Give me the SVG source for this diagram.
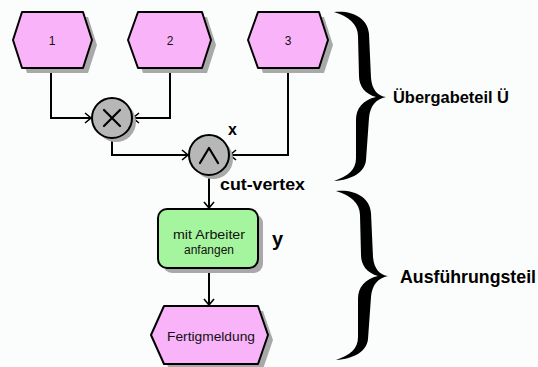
<svg xmlns="http://www.w3.org/2000/svg" xmlns:xlink="http://www.w3.org/1999/xlink" width="538" height="367" viewBox="0 0 538 367">
  <style>
    .shadow { fill: #a9a9a9; }
    .event { fill: #f9b3f9; stroke: #000; stroke-width: 2; stroke-linejoin: round; }
    .func { fill: #a5f59e; stroke: #000; stroke-width: 2; }
    .conn { fill: #b7b7b7; stroke: #000; stroke-width: 2; }
    .sym { fill: none; stroke: #000; stroke-width: 2.2; stroke-linecap: round; stroke-linejoin: round; }
    .edge { fill: none; stroke: #000; stroke-width: 2; marker-end: url(#arrow); }
    .nodetext { font-family: "Liberation Sans", Arial, sans-serif; font-size: 12px; fill: #111; text-anchor: middle; }
    .label { font-family: "Liberation Sans", Arial, sans-serif; font-weight: bold; fill: #000; }
    .brace { fill: #000; }
  </style>
  <defs>
    <marker id="arrow" markerUnits="userSpaceOnUse" markerWidth="14" markerHeight="14" viewBox="-8 -7 10 14" refX="0" refY="0" orient="auto">
      <path d="M-6,-5 L0,0 L-6,5" fill="none" stroke="#000" stroke-width="1.6"/>
    </marker>
    <!-- calligraphic curly brace, tip pointing right -->
    <path id="brace" d="M0,0 C18,-2 34,6 35,22 L37,66 C38,78 44,84 52,85 C42,87 36,94 35,106 L32,148 C31,160 18,168 0,169 C14,164 22,158 22,146 L22,108 C22,96 29,88 42,85 C31,82 25,74 25,64 L24,24 C24,12 14,4 0,0 Z"/>
  </defs>

  <rect width="538" height="367" fill="#fbfdfd"/>

  <!-- connectors -->
  <g id="connectors">
    <polyline class="edge" points="51,69 51,118 91,118"/>
    <polyline class="edge" points="170,69 170,118 133,118"/>
    <polyline class="edge" points="112,138 112,155 188,155"/>
    <polyline class="edge" points="288,69 288,155 230,155"/>
    <polyline class="edge" points="209,175 209,208"/>
    <polyline class="edge" points="209,269 209,305"/>
  </g>

  <!-- start events -->
  <g id="event1">
    <polygon class="shadow" points="18,45 27,17 88,17 97,45 88,73 27,73"/>
    <polygon class="event" points="13,40 22,12 83,12 92,40 83,68 22,68"/>
    <text class="nodetext" x="52" y="45" font-size="13">1</text>
  </g>
  <g id="event2">
    <polygon class="shadow" points="133,45 143,17 207,17 216,45 207,73 143,73"/>
    <polygon class="event" points="128,40 138,12 202,12 211,40 202,68 138,68"/>
    <text class="nodetext" x="170" y="45" font-size="13">2</text>
  </g>
  <g id="event3">
    <polygon class="shadow" points="253,45 263,17 324,17 333,45 324,73 263,73"/>
    <polygon class="event" points="248,40 258,12 319,12 328,40 319,68 258,68"/>
    <text class="nodetext" x="288" y="45" font-size="13">3</text>
  </g>

  <!-- XOR connector -->
  <g id="xor">
    <circle class="shadow" cx="116" cy="122" r="20"/>
    <circle class="conn" cx="112" cy="118" r="20"/>
    <path class="sym" d="M104,110 L120,126 M120,110 L104,126"/>
  </g>

  <!-- AND connector (cut-vertex) -->
  <g id="and">
    <circle class="shadow" cx="213" cy="159" r="20"/>
    <circle class="conn" cx="209" cy="155" r="20"/>
    <path class="sym" d="M200,163 L209,148 L218,163"/>
  </g>
  <text class="label" x="228" y="135" font-size="16">x</text>
  <text class="label" x="220" y="190" font-size="17" textLength="85" lengthAdjust="spacingAndGlyphs">cut-vertex</text>

  <!-- function -->
  <g id="function">
    <rect class="shadow" x="163" y="214" width="100" height="59" rx="9"/>
    <rect class="func" x="158" y="209" width="100" height="59" rx="9"/>
    <text class="nodetext" x="209" y="239" textLength="72" lengthAdjust="spacingAndGlyphs">mit Arbeiter</text>
    <text class="nodetext" x="209" y="254" textLength="50" lengthAdjust="spacingAndGlyphs">anfangen</text>
  </g>
  <text class="label" x="272" y="246" font-size="20">y</text>

  <!-- end event -->
  <g id="event4">
    <polygon class="shadow" points="156,340 169,311 263,311 273,340 263,369 169,369"/>
    <polygon class="event" points="151,335 164,306 258,306 268,335 258,364 164,364"/>
    <text class="nodetext" x="211" y="341" font-size="13" textLength="88" lengthAdjust="spacingAndGlyphs">Fertigmeldung</text>
  </g>

  <!-- section braces -->
  <g id="brace-uebergabe">
    <use xlink:href="#brace" class="brace" transform="translate(334,12)"/>
    <text class="label" x="393" y="103" font-size="17" textLength="116" lengthAdjust="spacingAndGlyphs">Übergabeteil Ü</text>
  </g>
  <g id="brace-ausfuehrung">
    <use xlink:href="#brace" class="brace" transform="translate(336,191)"/>
    <text class="label" x="400" y="283" font-size="18" textLength="136" lengthAdjust="spacingAndGlyphs">Ausführungsteil</text>
  </g>
</svg>
